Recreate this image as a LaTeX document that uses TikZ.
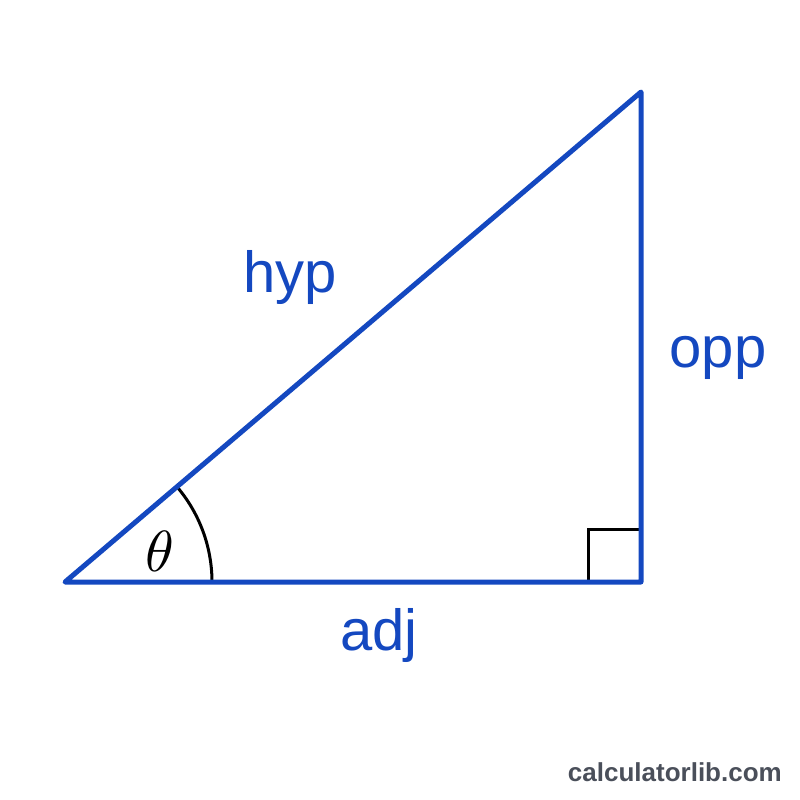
\documentclass[tikz,border=0pt]{standalone}
\usepackage{fontspec}
\setmainfont{Liberation Sans}
\usetikzlibrary{positioning}
\definecolor{triblue}{RGB}{20,72,192}
\definecolor{markgray}{RGB}{74,79,90}
\begin{document}
\begin{tikzpicture}[
	x=1pt, y=-1pt,
	side/.style={draw=triblue, line width=5pt, line join=round, line cap=round},
	anglemark/.style={draw=black, line width=3pt},
	lbl/.style={text=triblue, font=\fontsize{58}{62}\selectfont, anchor=base, inner sep=0pt},
	site/.style={text=markgray, font=\fontsize{26}{30}\selectfont\bfseries, anchor=base east, inner sep=0pt}
	]
	\useasboundingbox (0,0) rectangle (800,800);

		% Corners
		\coordinate (A) at (65,582);
		\coordinate (B) at (641,582);
		\coordinate (C) at (641,92);
		\coordinate (Q) at (588,529);

		% Angle marks
		\draw[anglemark] (Q |- B) -- (Q) -- (Q -| B);
		\draw[anglemark] ([xshift=147pt]A) arc[start angle=0, end angle=40.4, radius=147pt];

		% Triangle
		\draw[side] (A) -- (B) -- (C) -- cycle;

		% Labels
		\node[lbl] (hyp) at (290,292) {hyp};
		\node[lbl] (opp) at (718,367) {opp};
		\node[lbl] (adj) at (379,650) {adj};
		\node[text=black, inner sep=0pt] (theta) at (160,551) {\scalebox{5.8}{$\theta$}};
		\node[site] (site) at (782,781) {calculatorlib.com};
	\end{tikzpicture}
\end{document}
